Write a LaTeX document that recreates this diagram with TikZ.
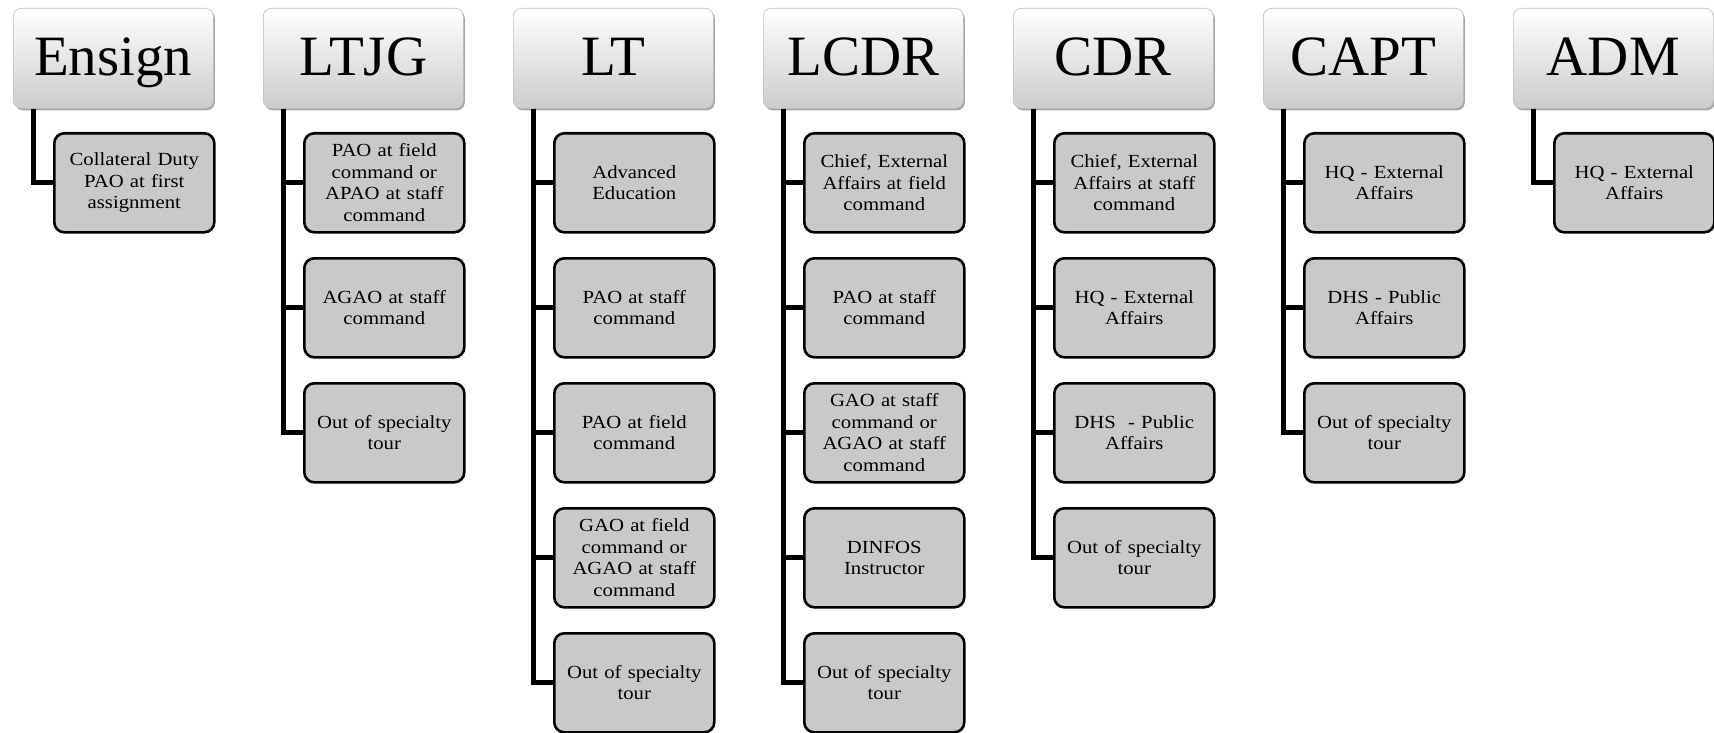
\documentclass[tikz,border=0pt]{standalone}
\usepackage{fontspec}
\setmainfont{Liberation Serif}
\newfontfamily\itemfont[FakeStretch=1.12]{Liberation Serif}
\usetikzlibrary{shadows}
\begin{document}
\begin{tikzpicture}[x=1pt,y=-1pt,
 hdr/.style={rounded corners=8pt, minimum width=200pt, minimum height=100pt, inner sep=0pt,
   top color=white, bottom color=black!20, draw=black!25, line width=0.6pt,
   font=\fontsize{57}{57}\selectfont, text height=40pt, text depth=6pt, anchor=north west,
   drop shadow={shadow xshift=1.5pt, shadow yshift=-2pt, opacity=0.35, fill=black}},
 itm/.style={rounded corners=10pt, minimum width=160pt, minimum height=99pt, inner sep=0pt,
   fill=black!21, draw=black, line width=2.6pt, font=\itemfont\fontsize{18.5}{21.5}\selectfont,
   align=center, text width=155pt, anchor=north west},
 conn/.style={line width=5pt, draw=black}
]
\useasboundingbox (0,0) rectangle (1714,733);

% headers
\node[hdr] (h1) at (13,8) {Ensign};
\node[hdr] (h2) at (263,8) {LTJG};
\node[hdr] (h3) at (513,8) {LT};
\node[hdr] (h4) at (763,8) {LCDR};
\node[hdr] (h5) at (1013,8) {CDR};
\node[hdr] (h6) at (1263,8) {CAPT};
\node[hdr] (h7) at (1513,8) {ADM};

% Ensign
\node[itm] (c11) at (53,132) {Collateral Duty\\PAO at first\\assignment};
% LTJG
\node[itm] (c21) at (303,132) {PAO at field\\command or\\APAO at staff\\command};
\node[itm] (c22) at (303,257) {AGAO at staff\\command};
\node[itm] (c23) at (303,382) {Out of specialty\\tour};
% LT
\node[itm] (c31) at (553,132) {Advanced\\Education};
\node[itm] (c32) at (553,257) {PAO at staff\\command};
\node[itm] (c33) at (553,382) {PAO at field\\command};
\node[itm] (c34) at (553,507) {GAO at field\\command or\\AGAO at staff\\command};
\node[itm] (c35) at (553,632) {Out of specialty\\tour};
% LCDR
\node[itm] (c41) at (803,132) {Chief, External\\Affairs at field\\command};
\node[itm] (c42) at (803,257) {PAO at staff\\command};
\node[itm] (c43) at (803,382) {GAO at staff\\command or\\AGAO at staff\\command};
\node[itm] (c44) at (803,507) {DINFOS\\Instructor};
\node[itm] (c45) at (803,632) {Out of specialty\\tour};
% CDR
\node[itm] (c51) at (1053,132) {Chief, External\\Affairs at staff\\command};
\node[itm] (c52) at (1053,257) {HQ - External\\Affairs};
\node[itm] (c53) at (1053,382) {DHS\ \ - Public\\Affairs};
\node[itm] (c54) at (1053,507) {Out of specialty\\tour};
% CAPT
\node[itm] (c61) at (1303,132) {HQ - External\\Affairs};
\node[itm] (c62) at (1303,257) {DHS - Public\\Affairs};
\node[itm] (c63) at (1303,382) {Out of specialty\\tour};
% ADM
\node[itm] (c71) at (1553,132) {HQ - External\\Affairs};

% connectors
\draw[conn] (h1.south west) ++(20,0) |- (c11.west);
\foreach \c in {c21,c22,c23} \draw[conn] (h2.south west) ++(20,0) |- (\c.west);
\foreach \c in {c31,c32,c33,c34,c35} \draw[conn] (h3.south west) ++(20,0) |- (\c.west);
\foreach \c in {c41,c42,c43,c44,c45} \draw[conn] (h4.south west) ++(20,0) |- (\c.west);
\foreach \c in {c51,c52,c53,c54} \draw[conn] (h5.south west) ++(20,0) |- (\c.west);
\foreach \c in {c61,c62,c63} \draw[conn] (h6.south west) ++(20,0) |- (\c.west);
\draw[conn] (h7.south west) ++(20,0) |- (c71.west);
\end{tikzpicture}
\end{document}
